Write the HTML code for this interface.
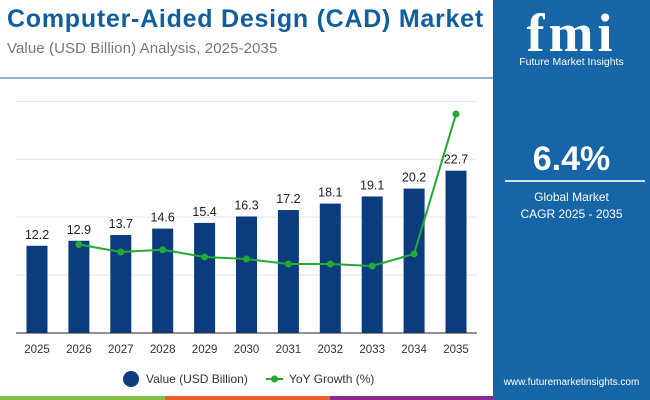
<!DOCTYPE html>
<html><head><meta charset="utf-8"><style>
body{margin:0;width:650px;height:400px;overflow:hidden;background:#fff;font-family:"Liberation Sans",sans-serif;position:relative}
.abs{position:absolute}
</style></head><body>
<div class="abs" style="left:7px;top:5px;font-size:25px;font-weight:bold;color:#0f5f9f;white-space:nowrap;letter-spacing:0.75px">Computer-Aided Design (CAD) Market</div>
<div class="abs" style="left:7px;top:40px;font-size:15px;color:#777;white-space:nowrap;letter-spacing:0.1px">Value (USD Billion) Analysis, 2025-2035</div>
<div class="abs" style="left:0;top:77px;width:493px;height:2px;background:#8fb2cf"></div>
<div class="abs" style="left:493px;top:0;width:157px;height:400px;background:#1565a7;color:#fff;text-align:center">
  <div style="position:absolute;left:0;width:157px;top:6px;font-size:54px;line-height:54px;font-weight:bold;font-family:'Liberation Serif',serif;letter-spacing:4px">fmi</div>
  <div style="position:absolute;left:0;width:157px;top:56px;font-size:10.5px">Future Market Insights</div>
  <div style="position:absolute;left:0;width:157px;top:140px;font-size:34px;font-weight:bold">6.4%</div>
  <div style="position:absolute;left:12px;width:140px;top:180px;height:2px;background:#cfe0ef"></div>
  <div style="position:absolute;left:0;width:157px;top:189px;font-size:12px;line-height:17px">Global Market<br>CAGR 2025 - 2035</div>
  <div style="position:absolute;left:0;width:157px;top:377px;font-size:10px">www.futuremarketinsights.com</div>
</div>
<div class="abs" style="left:0;top:396px;width:165px;height:4px;background:#7dc242"></div>
<div class="abs" style="left:165px;top:396px;width:165px;height:4px;background:#e8612c"></div>
<div class="abs" style="left:330px;top:396px;width:163px;height:4px;background:#8b2a8f"></div>
<svg class="abs" style="left:0;top:0" width="493" height="400" id="chart"></svg>
<script>
const years=["2025","2026","2027","2028","2029","2030","2031","2032","2033","2034","2035"];
const values=[12.2,12.9,13.7,14.6,15.4,16.3,17.2,18.1,19.1,20.2,22.7];
const growth=[null,5.9,5.4,5.55,5.07,4.93,4.6,4.6,4.47,5.27,14.6];
const gridTicks=[0,8.1,16.2,24.3,32.4];
const svg=document.getElementById('chart');
const NS='http://www.w3.org/2000/svg';
const base=333, pxPerUnit=7.15, gPx=15;
const x=i=>37+i*41.9;
const y=v=>base-v*pxPerUnit;
const yg=v=>base-v*gPx;
function mk(t,a){const e=document.createElementNS(NS,t);for(const k in a)e.setAttribute(k,a[k]);svg.appendChild(e);return e;}
gridTicks.forEach((t,i)=>{if(i===0)return;const l=mk('line',{x1:16,x2:477,y1:y(t),y2:y(t),stroke:'#e3e3e3','stroke-width':1});

});
values.forEach((v,i)=>{
 const r=mk('rect',{x:x(i)-10.5,y:y(v),width:21,height:v*pxPerUnit,fill:'#0b3d7e'});
 
 
 const t=mk('text',{x:x(i),y:y(v)-7,'text-anchor':'middle','font-size':'12.5',fill:'#222'});t.textContent=v.toFixed(1);
 
 
 const xl=mk('text',{x:x(i),y:353,'text-anchor':'middle','font-size':'11.5',fill:'#333'});xl.textContent=years[i];
 
 
});
const ax=mk('line',{x1:16,x2:477,y1:base,y2:base,stroke:'#222','stroke-width':1});


let pts=[];growth.forEach((g,i)=>{if(g!==null)pts.push(x(i)+','+yg(g));});
const pl=mk('polyline',{points:pts.join(' '),fill:'none',stroke:'#22aa33','stroke-width':2});


growth.forEach((g,i)=>{if(g===null)return;const c=mk('circle',{cx:x(i),cy:yg(g),r:3.5,fill:'#22aa33'});
 
 });
const lc=mk('circle',{cx:131,cy:379,r:8,fill:'#0b3d7e'});


const lt=mk('text',{x:146,y:383,'font-size':'12',fill:'#333'});lt.textContent='Value (USD Billion)';


const ll=mk('line',{x1:266,x2:283,y1:379,y2:379,stroke:'#22aa33','stroke-width':2});


const lp=mk('circle',{cx:274.5,cy:379,r:3.5,fill:'#22aa33'});


const lt2=mk('text',{x:289,y:383,'font-size':'12',fill:'#333'});lt2.textContent='YoY Growth (%)';


</script>
</body></html>
